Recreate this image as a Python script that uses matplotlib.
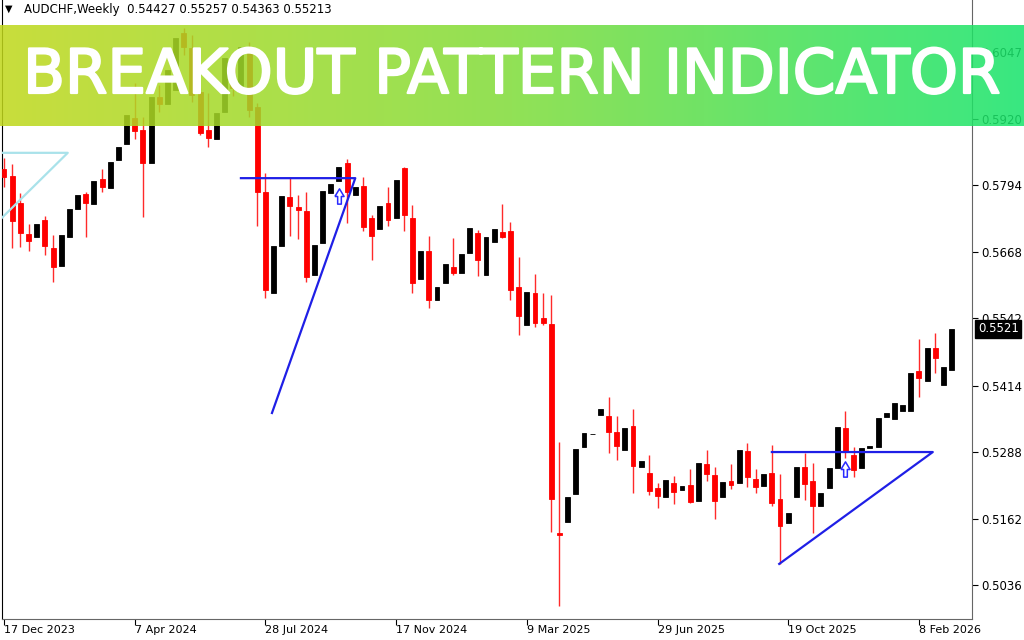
import numpy as np
import matplotlib
matplotlib.use("Agg")
import matplotlib.pyplot as plt
import matplotlib.transforms as mtransforms
import matplotlib.patheffects as pe
from matplotlib.path import Path
from matplotlib.colors import LinearSegmentedColormap

# weekly AUDCHF candles (index 0 = 17 Dec 2023)
opens = [0.5824, 0.5811, 0.5760, 0.5701, 0.5696, 0.5728, 0.5675, 0.5641, 0.5696, 0.5749,
         0.5777, 0.5758, 0.5805, 0.5788, 0.5841, 0.5872, 0.5921, 0.5898, 0.5836, 0.5961,
         0.5948, 0.5974, 0.6082, 0.6054, 0.5970, 0.5898, 0.5881, 0.5932, 0.6035, 0.5970,
         0.6050, 0.5942, 0.5781, 0.5589, 0.5678, 0.5771, 0.5752, 0.5745, 0.5624, 0.5684,
         0.5779, 0.5802, 0.5836, 0.5775, 0.5792, 0.5731, 0.5711, 0.5760, 0.5731, 0.5826,
         0.5731, 0.5616, 0.5669, 0.5576, 0.5608, 0.5639, 0.5627, 0.5665, 0.5703, 0.5624,
         0.5686, 0.5705, 0.5707, 0.5601, 0.5529, 0.5589, 0.5542, 0.5531, 0.5135, 0.5155,
         0.5209, 0.5298, 0.5322, 0.5358, 0.5356, 0.5326, 0.5292, 0.5337, 0.5260, 0.5248,
         0.5220, 0.5203, 0.5229, 0.5216, 0.5226, 0.5195, 0.5265, 0.5244, 0.5203, 0.5233,
         0.5229, 0.5290, 0.5237, 0.5224, 0.5248, 0.5199, 0.5154, 0.5203, 0.5260, 0.5233,
         0.5186, 0.5220, 0.5258, 0.5334, 0.5282, 0.5258, 0.5296, 0.5298, 0.5354, 0.5351,
         0.5366, 0.5366, 0.5442, 0.5423, 0.5485, 0.5415, 0.54427]
highs = [0.5845, 0.5834, 0.5779, 0.5720, 0.5720, 0.5735, 0.5699, 0.5699, 0.5749, 0.5775,
         0.5781, 0.5802, 0.5824, 0.5838, 0.5866, 0.5927, 0.5987, 0.5923, 0.5961, 0.5984,
         0.6012, 0.6073, 0.6092, 0.6078, 0.5978, 0.5968, 0.5931, 0.6035, 0.6046, 0.6056,
         0.6065, 0.5949, 0.5817, 0.5678, 0.5773, 0.5807, 0.5775, 0.5781, 0.5680, 0.5783,
         0.5796, 0.5828, 0.5843, 0.5790, 0.5809, 0.5737, 0.5754, 0.5790, 0.5804, 0.5828,
         0.5756, 0.5669, 0.5697, 0.5601, 0.5644, 0.5694, 0.5663, 0.5713, 0.5709, 0.5696,
         0.5711, 0.5758, 0.5724, 0.5658, 0.5591, 0.5625, 0.5589, 0.5586, 0.5307, 0.5203,
         0.5294, 0.5324, 0.5323, 0.5370, 0.5392, 0.5356, 0.5334, 0.5370, 0.5271, 0.5282,
         0.5229, 0.5235, 0.5243, 0.5224, 0.5256, 0.5267, 0.5292, 0.5260, 0.5231, 0.5265,
         0.5292, 0.5305, 0.5256, 0.5246, 0.5301, 0.5246, 0.5172, 0.5260, 0.5286, 0.5267,
         0.5210, 0.5258, 0.5335, 0.5366, 0.5298, 0.5296, 0.5299, 0.5353, 0.5362, 0.5381,
         0.5377, 0.5438, 0.5502, 0.5485, 0.5514, 0.5449, 0.55257]
lows = [0.5790, 0.5675, 0.5677, 0.5669, 0.5696, 0.5661, 0.5610, 0.5641, 0.5696, 0.5749,
        0.5696, 0.5758, 0.5781, 0.5788, 0.5841, 0.5872, 0.5881, 0.5733, 0.5836, 0.5932,
        0.5948, 0.5974, 0.6040, 0.5951, 0.5889, 0.5866, 0.5881, 0.5932, 0.5963, 0.5970,
        0.5923, 0.5716, 0.5580, 0.5589, 0.5678, 0.5697, 0.5692, 0.5610, 0.5624, 0.5684,
        0.5779, 0.5802, 0.5722, 0.5775, 0.5707, 0.5652, 0.5711, 0.5716, 0.5731, 0.5707,
        0.5589, 0.5616, 0.5561, 0.5576, 0.5608, 0.5624, 0.5627, 0.5665, 0.5622, 0.5624,
        0.5686, 0.5694, 0.5576, 0.5510, 0.5529, 0.5525, 0.5529, 0.5136, 0.4996, 0.5155,
        0.5209, 0.5298, 0.5322, 0.5358, 0.5286, 0.5273, 0.5292, 0.5210, 0.5260, 0.5207,
        0.5182, 0.5203, 0.5190, 0.5216, 0.5191, 0.5195, 0.5233, 0.5161, 0.5203, 0.5218,
        0.5229, 0.5222, 0.5210, 0.5224, 0.5186, 0.5076, 0.5154, 0.5203, 0.5197, 0.5135,
        0.5186, 0.5220, 0.5258, 0.5277, 0.5241, 0.5258, 0.5296, 0.5298, 0.5354, 0.5351,
        0.5366, 0.5366, 0.5392, 0.5423, 0.5438, 0.5415, 0.54363]
closes = [0.5809, 0.5726, 0.5703, 0.5688, 0.5720, 0.5678, 0.5639, 0.5699, 0.5749, 0.5775,
          0.5760, 0.5802, 0.5790, 0.5838, 0.5866, 0.5927, 0.5896, 0.5836, 0.5961, 0.5948,
          0.6012, 0.6073, 0.6056, 0.5965, 0.5893, 0.5883, 0.5931, 0.6035, 0.5978, 0.6056,
          0.5936, 0.5781, 0.5595, 0.5678, 0.5773, 0.5754, 0.5747, 0.5620, 0.5680, 0.5783,
          0.5796, 0.5828, 0.5781, 0.5790, 0.5714, 0.5697, 0.5754, 0.5728, 0.5804, 0.5737,
          0.5608, 0.5669, 0.5576, 0.5601, 0.5644, 0.5627, 0.5663, 0.5713, 0.5652, 0.5696,
          0.5711, 0.5696, 0.5595, 0.5546, 0.5591, 0.5532, 0.5532, 0.5199, 0.5131, 0.5203,
          0.5294, 0.5324, 0.5323, 0.5370, 0.5326, 0.5299, 0.5334, 0.5262, 0.5271, 0.5214,
          0.5205, 0.5235, 0.5212, 0.5224, 0.5193, 0.5267, 0.5246, 0.5195, 0.5231, 0.5226,
          0.5292, 0.5241, 0.5222, 0.5246, 0.5191, 0.5148, 0.5172, 0.5260, 0.5227, 0.5186,
          0.5210, 0.5258, 0.5335, 0.5288, 0.5254, 0.5296, 0.5299, 0.5353, 0.5362, 0.5381,
          0.5377, 0.5438, 0.5428, 0.5485, 0.5466, 0.5449, 0.55213]

date_idx = [0, 16, 32, 48, 64, 80, 96, 112]
date_labels = ["17 Dec 2023", "7 Apr 2024", "28 Jul 2024", "17 Nov 2024",
               "9 Mar 2025", "29 Jun 2025", "19 Oct 2025", "8 Feb 2026"]
price_ticks = [0.5036, 0.5162, 0.5288, 0.5414, 0.5542, 0.5668, 0.5794, 0.5920, 0.6047]

# pattern drawings (bar index, price)
old_tri_x = [-3.0, 7.8, -3.0]
old_tri_y = [0.5855, 0.5855, 0.5690]
tri1_x = [29.0, 43.0, 32.8]
tri1_y = [0.5807, 0.5807, 0.5362]
tri2_x = [94.0, 113.7, 94.9]
tri2_y = [0.5288, 0.5288, 0.5076]
signal_idx = [41, 103]
signal_price = [0.5773, 0.5256]

header = "AUDCHF,Weekly  0.54427 0.55257 0.54363 0.55213"
last_price = "0.5521"
title = "BREAKOUT PATTERN INDICATOR"

o = np.array(opens); h = np.array(highs); l = np.array(lows); c = np.array(closes)
x = np.arange(len(o))
bear = c < o
bull = ~bear

fig = plt.figure(figsize=(10.24, 6.4), dpi=100)
ax = fig.add_axes([2 / 1024, 21 / 640, 970 / 1024, 619 / 640])
ax.set_xlim(-0.25, 118.5)
ax.set_ylim(0.49716, 0.61446)

# candles: red wicks only, bull wicks are white in MT4 so invisible
ax.vlines(x[bear], l[bear], h[bear], color="#ff2a2a", lw=1.0, zorder=2)
ax.bar(x[bear], o[bear] - c[bear], bottom=c[bear], width=0.6,
       color="#ff0000", edgecolor="#ff0000", lw=0.6, zorder=3)
ax.bar(x[bull], c[bull] - o[bull], bottom=o[bull], width=0.6,
       color="black", edgecolor="black", lw=0.6, zorder=3)

# pattern lines
ax.plot(old_tri_x, old_tri_y, color="#a9e2ea", lw=1.6, zorder=4)
ax.plot(tri1_x, tri1_y, color="#1f1fe6", lw=1.6, zorder=4)
ax.plot(tri2_x, tri2_y, color="#1f1fe6", lw=1.6, zorder=4)

# breakout arrows
arrow = Path([(-0.3, 0.0), (0.0, 0.5), (0.3, 0.0), (0.12, 0.0), (0.12, -0.5),
              (-0.12, -0.5), (-0.12, 0.0), (-0.3, 0.0)])
ax.plot(signal_idx, signal_price, ls="none", marker=arrow, ms=11,
        mfc="white", mec="#2a2aff", mew=1.1, zorder=5)

# axes styling
ax.spines["top"].set_visible(False)
ax.spines["left"].set_color("black")
ax.spines["right"].set_color("#666666")
ax.spines["bottom"].set_color("#666666")
ax.yaxis.tick_right()
ax.set_yticks(price_ticks)
ax.set_yticklabels([f"{p:.4f}" for p in price_ticks])
ax.tick_params(axis="y", length=4, width=0.8, pad=3, labelsize=8.5, colors="black")
ax.set_xticks(date_idx)
ax.set_xticklabels(date_labels)
ax.tick_params(axis="x", length=4, width=0.8, pad=0.5, labelsize=8)
for lab in ax.get_xticklabels():
    lab.set_ha("left")

# current price box
trans = mtransforms.blended_transform_factory(ax.transAxes, ax.transData)
ax.text(1.006, closes[-1], last_price, transform=trans, va="center", ha="left",
        fontsize=8.5, color="white", zorder=10,
        bbox=dict(boxstyle="square,pad=0.2", fc="black", ec="black"))

# header
fig.text(5 / 1024, 1 - 9 / 640, "\u25bc", fontsize=7, va="center", ha="left")
fig.text(24 / 1024, 1 - 9 / 640, header, fontsize=8.5, va="center", ha="left")

# green banner
bax = fig.add_axes([0, 1 - 126 / 640, 1, 101 / 640], zorder=20)
cmap = LinearSegmentedColormap.from_list("banner", ["#c0d81c", "#80dc3a", "#18e46c"])
bax.imshow(np.linspace(0, 1, 256)[None, :], aspect="auto", cmap=cmap, alpha=0.86,
           extent=[0, 1, 0, 1])
bax.set_xlim(0, 1); bax.set_ylim(0, 1)
bax.axis("off")
fig.text(0.5, 1 - 93 / 640, title, fontsize=44, color="white", ha="center",
         va="baseline", zorder=30, family="DejaVu Sans",
         path_effects=[pe.withStroke(linewidth=1.6, foreground="white")])

fig.savefig("out.png", dpi=100)
